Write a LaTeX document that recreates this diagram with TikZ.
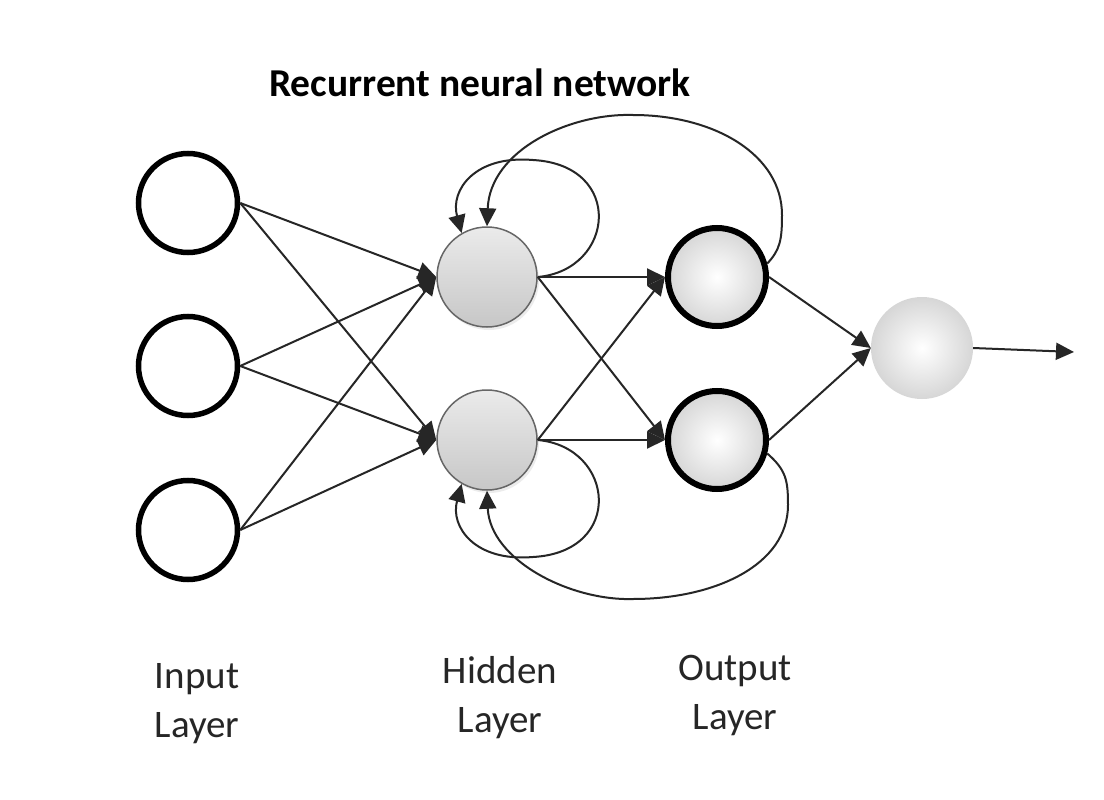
\documentclass[tikz,border=0pt]{standalone}
\usepackage{fontspec}
\setmainfont{Carlito}
\usetikzlibrary{arrows.meta,shadows}
\begin{document}
\begin{tikzpicture}[x=1pt,y=-1pt,
 inp/.style={circle,draw=black,line width=5.5pt,minimum size=99pt,inner sep=0pt,fill=white},
 hid/.style={circle,draw=black!60,line width=1.5pt,minimum size=100pt,inner sep=0pt,top color=black!8,bottom color=black!22,drop shadow={shadow xshift=2pt,shadow yshift=-3pt,opacity=0.15}},
 outl/.style={circle,draw=black,line width=6pt,minimum size=98pt,inner sep=0pt,inner color=white,outer color=black!16},
 fin/.style={circle,minimum size=102pt,inner sep=0pt,inner color=white,outer color=black!16},
 conn/.style={draw=black!85,line width=2pt,-{Triangle[length=18pt,width=17pt]}},
 lbl/.style={font=\fontsize{39}{49}\selectfont,text=black!85,anchor=base}]
\useasboundingbox (0,0) rectangle (1104,800);
\fill[white] (0,0) rectangle (1104,800);

\node[font=\bfseries\fontsize{39.5}{47}\selectfont,anchor=base] (title) at (480,97) {Recurrent neural network};

\node[inp] (i1) at (188,203) {};
\node[inp] (i2) at (188,366) {};
\node[inp] (i3) at (188,530) {};
\node[hid] (h1) at (487,277) {};
\node[hid] (h2) at (487,440) {};
\node[outl] (o1) at (717,277) {};
\node[outl] (o2) at (717,440) {};
\node[fin] (f) at (922,348) {};
\coordinate (end) at (1074,352);

\foreach \i in {i1,i2,i3}{
  \foreach \h in {h1,h2}{
    \draw[conn] (\i.east) -- (\h.west);
  }
}
\foreach \h in {h1,h2}{
  \foreach \o in {o1,o2}{
    \draw[conn] (\h.east) -- (\o.west);
  }
}
\draw[conn] (o1.east) -- (f.west);
\draw[conn] (o2.east) -- (f.west);
\draw[conn] (f.east) -- (end);

% self loops
\draw[conn] (h1.east) .. controls (615,270) and (625,165) .. (533,160)
  .. controls (475,155) and (450,190) .. (h1.120);
\draw[conn] (h2.east) .. controls (615,447) and (625,552) .. (533,557)
  .. controls (475,562) and (450,527) .. (h2.240);
% output-to-hidden recurrent loops
\draw[conn] (o1.15) .. controls (780,250) and (782,240) .. (782,215)
  .. controls (782,155) and (715,115) .. (633,115)
  .. controls (570,113) and (490,150) .. (h1.north);
\draw[conn] (o2.-15) .. controls (786,470) and (788,480) .. (788,505)
  .. controls (788,565) and (715,599) .. (633,599)
  .. controls (570,601) and (490,560) .. (h2.south);

\node[lbl] (inA) at (197,688) {Input};
\node[lbl] (inB) at (197,737) {Layer};
\node[lbl] (hiA) at (500,683) {Hidden};
\node[lbl] (hiB) at (500,732) {Layer};
\node[lbl] (ouA) at (735,680) {Output};
\node[lbl] (ouB) at (735,729) {Layer};
\end{tikzpicture}
\end{document}
